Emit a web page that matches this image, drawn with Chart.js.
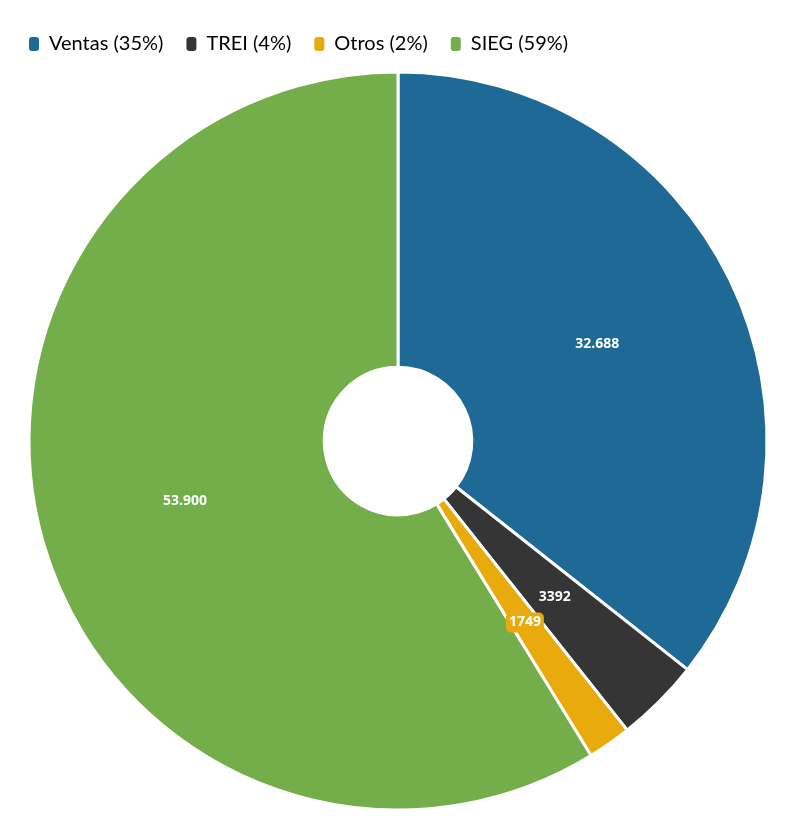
<!doctype html>
<html>
  <head>
    <script src="https://cdnjs.cloudflare.com/ajax/libs/Chart.js/4.4.0/chart.umd.js"></script>
    <style>
      body { margin: 0; background: #fff; }
      #wrap { width: 796px; height: 839px; }
    </style>
    <script>
      let categories = ['Ventas', 'TREI', 'Otros', 'SIEG'];
      let values = [32688, 3392, 1749, 53900];
      let valueLabels = ['32.688', '3392', '1749', '53.900'];
      let shares = [35, 4, 2, 59];
      let colours = ['#1e6995', '#353535', '#e9ab0c', '#73ae4a'];

      // writes the numbers in the middle of each slice
      let sliceLabels = {
        id: 'sliceLabels',
        afterDatasetsDraw(chart) {
          let ctx = chart.ctx;
          let meta = chart.getDatasetMeta(0);
          ctx.save();
          ctx.font = 'bold 14px "Open Sans", sans-serif';
          ctx.textAlign = 'center';
          ctx.textBaseline = 'middle';
          meta.data.forEach(function (arc, i) {
            let p = arc.getCenterPoint();
            let txt = valueLabels[i];
            if (arc.endAngle - arc.startAngle < 0.15) {
              // thin slice: put a box behind the text
              let w = ctx.measureText(txt).width + 6;
              ctx.fillStyle = colours[i];
              ctx.beginPath();
              ctx.roundRect(p.x - w / 2, p.y - 10, w, 20, 5);
              ctx.fill();
            }
            ctx.fillStyle = '#ffffff';
            ctx.fillText(txt, p.x, p.y);
          });
          ctx.restore();
        }
      };

      let chart1;
      function startPage() {
        chart1 = new Chart(document.getElementById('c1'), {
          type: 'doughnut',
          data: {
            labels: categories.map(function (c, i) { return c + ' (' + shares[i] + '%)'; }),
            datasets: [{
              data: values,
              backgroundColor: colours,
              borderColor: '#ffffff',
              borderWidth: 3
            }]
          },
          options: {
            responsive: false,
            animation: false,
            cutout: '20%',
            radius: 369,
            layout: { padding: { top: 11, bottom: 21, left: 6, right: 6 } },
            plugins: {
              tooltip: { enabled: false },
              legend: {
                position: 'top',
                align: 'start',
                labels: {
                  boxWidth: 10,
                  boxHeight: 14,
                  padding: 23,
                  color: '#333333',
                  font: { family: 'Lato, sans-serif', size: 20 },
                  generateLabels: function (chart) {
                    return chart.data.labels.map(function (l, i) {
                      return {
                        text: l,
                        fillStyle: colours[i],
                        strokeStyle: colours[i],
                        lineWidth: 0,
                        borderRadius: 3,
                        index: i
                      };
                    });
                  },
                  useBorderRadius: true
                }
              }
            }
          },
          plugins: [sliceLabels]
        });
      }
    </script>
  </head>
  <body onload="startPage()">
    <div id="wrap">
      <canvas id="c1" width="796" height="839"></canvas>
    </div>
  </body>
</html>
